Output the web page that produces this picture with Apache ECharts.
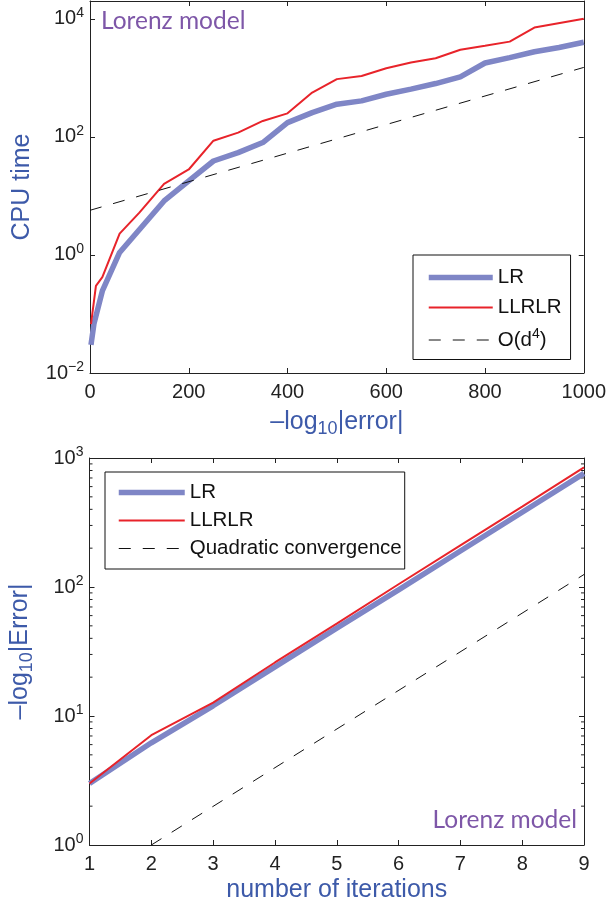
<!DOCTYPE html>
<html><head><meta charset="utf-8">
<script src="https://cdn.jsdelivr.net/npm/echarts@6/dist/echarts.min.js"></script>
<style>html,body{margin:0;padding:0;background:#fff}#c{width:609px;height:904px}</style>
</head><body><div id="c"></div>
<script>
// ---- Top panel: CPU time vs -log10|error| ----
const lrDigits = [2, 8, 25, 60, 150, 200, 250, 300, 350, 400, 450, 500, 550, 600, 650, 700, 750, 800, 850, 900, 950, 1000];
const lrTime = [0.03, 0.068, 0.245, 1.1, 8.2, 18, 39, 54, 80, 174, 257, 357, 407, 527, 643, 800, 1040, 1780, 2200, 2760, 3260, 4000];
const llrlrDigits = [2, 12, 25, 60, 100, 150, 200, 250, 300, 350, 400, 450, 500, 550, 600, 650, 700, 750, 800, 850, 900, 1000];
const llrlrTime = [0.067, 0.3, 0.42, 2.3, 5.2, 16, 28, 86, 118, 186, 250, 562, 950, 1075, 1450, 1820, 2150, 2980, 3480, 4100, 7100, 10000];
const refDigits = [0, 1000];
const refTime = [5.7, 1500];

// ---- Bottom panel: -log10|Error| vs number of iterations ----
const iterations = [1, 2, 3, 4, 5, 6, 7, 8, 9];
const lrErr = [3, 6.2, 12, 24, 48, 95, 190, 380, 760];
const llrlrErr = [3, 7.1, 12.7, 26, 52, 105, 210, 420, 845];
const quadIter = [2, 9];
const quadErr = [1, 125];

// minor log ticks for bottom panel
const minorMultipliers = [2, 3, 4, 5, 6, 7, 8, 9];
const minorDecades = [1, 10, 100];

const zip = (a, b) => a.map((v, i) => [v, b[i]]);
const minorVals = [];
minorDecades.forEach(d => minorMultipliers.forEach(m => minorVals.push([1, m * d])));

const FONT = 'Liberation Sans';
const AX = '#222';
const BLUE = '#7f86c6';
const RED = '#e8232a';
const TITLE_BLUE = '#3d5aa9';
const PURPLE = '#7e57a8';

const powRich = {
  b: { fontSize: 20, fontFamily: FONT, color: AX },
  s: { fontSize: 14, fontFamily: FONT, color: AX, padding: [0, 0, 12, 0] }
};
const powFmt = v => {
  const e = Math.round(Math.log10(v));
  return '{b|10}{s|' + (e < 0 ? '\u2212' + (-e) : e) + '}';
};
const titleRich = {
  n: { fontSize: 25, fontFamily: FONT, color: TITLE_BLUE },
  sub: { fontSize: 18, fontFamily: FONT, color: TITLE_BLUE, padding: [14, 0, 0, 0] }
};

function xAx(grid, min, max, interval, pos, labels, name) {
  return {
    type: 'value', gridIndex: grid, min, max, interval, position: pos,
    axisLine: { show: true, onZero: false, lineStyle: { color: AX, width: 1 } },
    axisTick: { show: true, inside: true, length: 5, lineStyle: { color: AX } },
    axisLabel: { show: labels, fontSize: 20, fontFamily: FONT, color: AX, margin: 9, formatter: v => String(v) },
    splitLine: { show: false },
    name: name || '', nameLocation: 'middle', nameGap: 33,
    nameTextStyle: { color: TITLE_BLUE, fontFamily: FONT, fontSize: 25, rich: titleRich }
  };
}
function yAx(grid, min, max, interval, pos, labels, name) {
  return {
    type: 'log', logBase: 10, gridIndex: grid, min, max, interval, position: pos,
    axisLine: { show: true, onZero: false, lineStyle: { color: AX, width: 1 } },
    axisTick: { show: true, inside: true, length: 5, lineStyle: { color: AX } },
    axisLabel: { show: labels, formatter: powFmt, rich: powRich, margin: 6, showMaxLabel: grid === 1 },
    splitLine: { show: false }, minorTick: { show: false },
    name: name || '', nameLocation: 'middle', nameRotate: 90, nameGap: 53,
    nameTextStyle: { color: TITLE_BLUE, fontFamily: FONT, fontSize: 25, rich: titleRich }
  };
}

const legendRich = {
  n: { fontSize: 20.5, fontFamily: FONT, color: '#111' },
  sup: { fontSize: 14, fontFamily: FONT, color: '#111', padding: [0, 0, 12, 0] }
};
const legendFmt = name => name === 'O(d^4)' ? '{n|O(d}{sup|4}{n|)}' : '{n|' + name + '}';
const hiddenSymbol = { color: 'rgba(0,0,0,0)', borderColor: 'rgba(0,0,0,0)', borderWidth: 0 };

const option = {
  backgroundColor: '#fff',
  animation: false,
  grid: [
    { left: 90, top: 1, width: 494, height: 372 },
    { left: 88, top: 458, width: 496, height: 388 }
  ],
  title: [
    { text: 'Lorenz model', left: 101, top: 9, padding: 0,
      textStyle: { color: PURPLE, fontFamily: 'Lato', fontSize: 24.5, fontWeight: 'normal' } },
    { text: 'Lorenz model', right: 32, top: 808, padding: 0,
      textStyle: { color: PURPLE, fontFamily: 'Lato', fontSize: 24.5, fontWeight: 'normal' } }
  ],
  legend: [
    { data: ['LR', 'LLRLR', 'O(d^4)'], orient: 'vertical', left: 413, top: 255,
      padding: [12, 9, 9, 13], itemGap: 9, itemWidth: 64, itemHeight: 16,
      borderColor: '#111', borderWidth: 1, backgroundColor: '#fff',
      formatter: legendFmt, textStyle: { rich: legendRich, fontSize: 20.5, fontFamily: FONT },
      itemStyle: hiddenSymbol, lineStyle: { width: 'inherit' }, selectedMode: false },
    { data: ['LR', 'LLRLR', 'Quadratic convergence'], orient: 'vertical', left: 105, top: 472,
      padding: [10, 3, 10, 11], itemGap: 7, itemWidth: 66, itemHeight: 16,
      borderColor: '#111', borderWidth: 1, backgroundColor: '#fff',
      formatter: legendFmt, textStyle: { rich: legendRich, fontSize: 20.5, fontFamily: FONT },
      itemStyle: hiddenSymbol, lineStyle: { width: 'inherit' }, selectedMode: false }
  ],
  xAxis: [
    xAx(0, 0, 1000, 200, 'bottom', true, '{n|\u2013log}{sub|10}{n||error|}'),
    xAx(0, 0, 1000, 200, 'top', false),
    xAx(1, 1, 9, 1, 'bottom', true, '{n|number of iterations}'),
    xAx(1, 1, 9, 1, 'top', false)
  ],
  yAxis: [
    yAx(0, 0.01, 20000, 2, 'left', true, '{n|CPU time}'),
    yAx(0, 0.01, 20000, 2, 'right', false),
    yAx(1, 1, 1000, 1, 'left', true, '{n|\u2013log}{sub|10}{n||Error|}'),
    yAx(1, 1, 1000, 1, 'right', false)
  ],
  series: [
    { name: 'LR', type: 'line', xAxisIndex: 0, yAxisIndex: 0, data: zip(lrDigits, lrTime),
      symbol: 'none', lineStyle: { color: BLUE, width: 5.5 }, itemStyle: { color: BLUE }, z: 2 },
    { name: 'LLRLR', type: 'line', xAxisIndex: 0, yAxisIndex: 0, data: zip(llrlrDigits, llrlrTime),
      symbol: 'none', lineStyle: { color: RED, width: 2 }, itemStyle: { color: RED }, z: 3 },
    { name: 'O(d^4)', type: 'line', xAxisIndex: 0, yAxisIndex: 0, data: zip(refDigits, refTime),
      symbol: 'none', lineStyle: { color: '#111', width: 1, type: [12, 12] }, itemStyle: { color: '#111' }, z: 4 },
    { name: 'LR', type: 'line', xAxisIndex: 2, yAxisIndex: 2, data: zip(iterations, lrErr),
      symbol: 'none', lineStyle: { color: BLUE, width: 5.5 }, itemStyle: { color: BLUE }, z: 2 },
    { name: 'LLRLR', type: 'line', xAxisIndex: 2, yAxisIndex: 2, data: zip(iterations, llrlrErr),
      symbol: 'none', lineStyle: { color: RED, width: 2 }, itemStyle: { color: RED }, z: 3 },
    { name: 'Quadratic convergence', type: 'line', xAxisIndex: 2, yAxisIndex: 2, data: zip(quadIter, quadErr),
      symbol: 'none', lineStyle: { color: '#111', width: 1, type: [12, 12] }, itemStyle: { color: '#111' }, z: 4 },
    { name: 'minorTicks', type: 'custom', xAxisIndex: 2, yAxisIndex: 2, data: minorVals, silent: true, clip: false,
      renderItem: (params, api) => {
        const v = api.value(1);
        const pl = api.coord([1, v]);
        const pr = api.coord([9, v]);
        return { type: 'group', children: [
          { type: 'line', shape: { x1: pl[0], y1: pl[1], x2: pl[0] + 3, y2: pl[1] }, style: { stroke: AX, lineWidth: 1 } },
          { type: 'line', shape: { x1: pr[0] - 3, y1: pr[1], x2: pr[0], y2: pr[1] }, style: { stroke: AX, lineWidth: 1 } }
        ]};
      } }
  ]
};
const chart = echarts.init(document.getElementById('c'), null, { renderer: 'canvas' });
chart.setOption(option);
</script></body></html>
